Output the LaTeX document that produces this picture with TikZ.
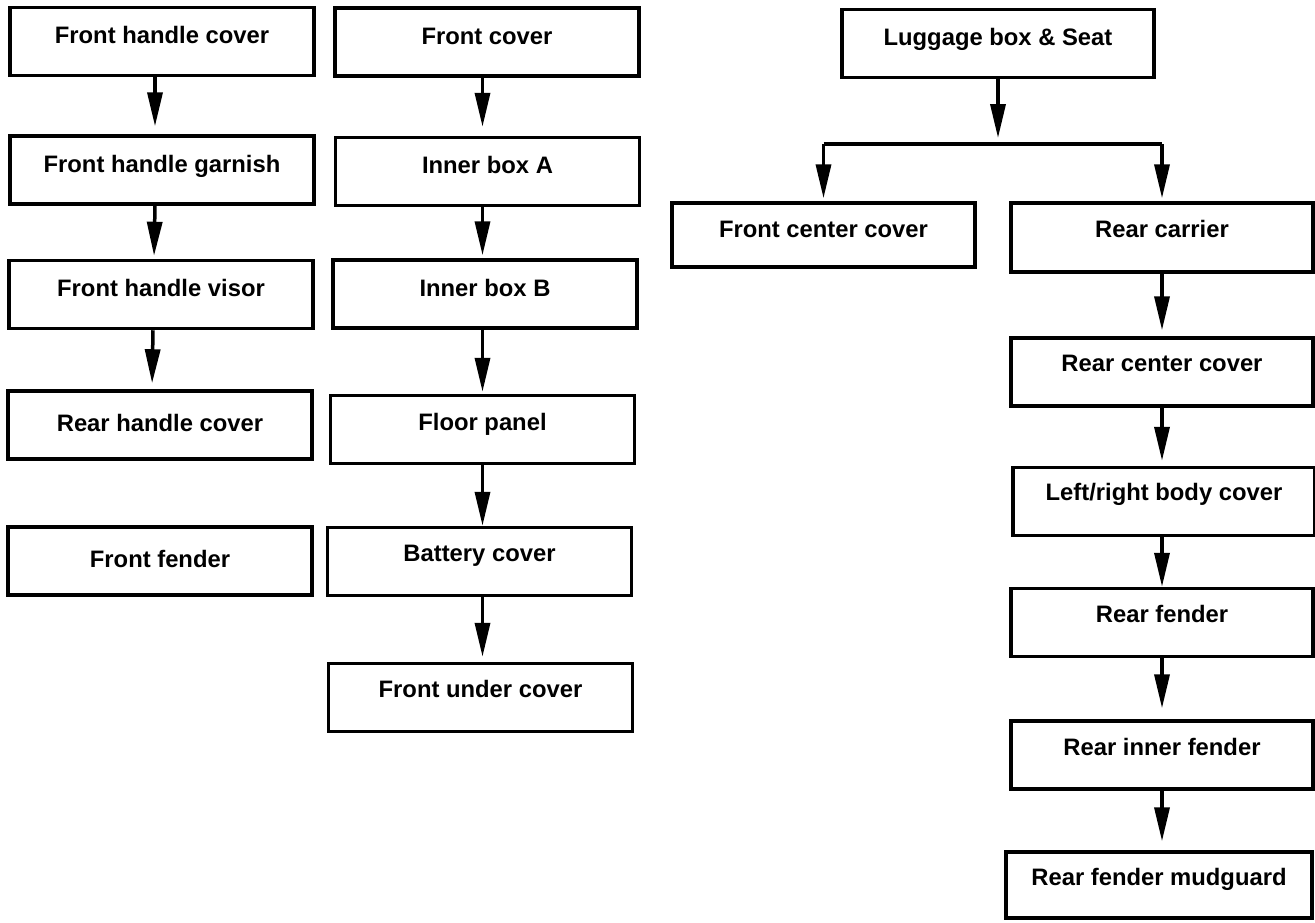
\documentclass[tikz,border=0pt]{standalone}
\usepackage{fontspec}
\setmainfont{Liberation Sans}
\usepackage{tikz}
\usetikzlibrary{arrows.meta}
\tikzset{part/.style={draw, line width=3.5pt, minimum width=304pt, minimum height=68pt, inner sep=0pt, text height=17pt, text depth=15pt, font=\bfseries\fontsize{23.8}{28}\selectfont}}
\tikzset{feed/.style={-{Triangle[length=34pt, width=15pt]}, line width=3.5pt}}
\newcommand{\nextpart}[3][0pt]{\draw[feed, shorten >=#1] (#2.south) -- (#3.north);}

\begin{document}
\begin{tikzpicture}[x=1pt, y=-1pt]
\useasboundingbox (0,0) rectangle (1315,922);
% handle side
\node[part, text depth=13pt] (fhc) at (162,41.5) {Front handle cover};
\node[part, text depth=13pt] (fhg) at (162,170) {Front handle garnish};
\node[part, text depth=13pt] (fhv) at (161,294.5) {Front handle visor};
\node[part, text depth=5pt] (rhc) at (160,425) {Rear handle cover};
\node[part, text depth=5pt] (ff) at (160,561) {Front fender};
\draw[feed, shorten >=8pt] ([xshift=-7pt]fhc.south) -- ([xshift=-7pt]fhg.north);
\draw[feed, shorten >=3pt] ([xshift=-7pt]fhg.south) -- ([xshift=-7pt]fhv.north);
\draw[feed, shorten >=6pt] ([xshift=-8pt]fhv.south) -- ([xshift=-8pt]rhc.north);
% front body
\node[part, text depth=13pt] (fc) at (487,42) {Front cover};
\node[part, text depth=13pt] (iba) at (487.5,171.5) {Inner box A};
\node[part, text depth=13pt] (ibb) at (485,294) {Inner box B};
\node[part] (fp) at (482.5,429.5) {Floor panel};
\node[part, text depth=17pt] (bc) at (479.5,561.5) {Battery cover};
\node[part, text depth=17pt] (fuc) at (480.5,697.5) {Front under cover};
\draw[feed, shorten >=9pt] (fc.south -| fp.south) -- (iba.north -| fp.south);
\draw[feed, shorten >=3pt] (iba.south -| fp.south) -- (ibb.north -| fp.south);
\draw[feed, shorten >=2pt] (ibb.south -| fp.south) -- (fp.north);
\draw[feed] (fp.south) -- (bc.north -| fp.south);
\draw[feed, shorten >=5pt] (bc.south -| fp.south) -- (fuc.north -| fp.south);
% rear body
\node[part, minimum width=312pt, text depth=13pt] (lbs) at (998,43.5) {Luggage box \& Seat};
\coordinate (split) at (998,144);
\node[part, minimum width=303pt, minimum height=64pt, text depth=13pt] (fcc) at (823.5,235) {Front center cover};
\node[part, minimum width=302pt, minimum height=69pt, text depth=17pt] (rc) at (1162,237.5) {Rear carrier};
\node[part, minimum width=302pt, text depth=19pt] (rcc) at (1162,372) {Rear center cover};
\node[part, minimum width=302pt, text depth=19pt] (lrbc) at (1164,501.5) {Left/right body cover};
\node[part, minimum width=302pt, text depth=17pt] (rf) at (1162,622.5) {Rear fender};
\node[part, minimum width=302pt, text depth=17pt] (rif) at (1162,755) {Rear inner fender};
\node[part, minimum width=306pt, minimum height=66pt, text depth=17pt] (rfm) at (1159,885) {Rear fender mudguard};
\draw[feed, shorten >=6pt] (lbs.south) -- (split);
\draw[line width=4pt] (fcc.north |- split) -- (rc.north |- split);
\draw[feed, shorten >=3pt] (fcc.north |- split) -- (fcc.north);
\draw[feed, shorten >=3pt] (rc.north |- split) -- (rc.north);
\nextpart[6pt]{rc}{rcc}
\draw[feed, shorten >=5pt] (rcc.south) -- (lrbc.north -| rcc.south);
\draw[feed] (lrbc.south -| rcc.south) -- (rf.north);
\nextpart[11pt]{rf}{rif}
\draw[feed, shorten >=9pt] (rif.south) -- (rfm.north -| rif.south);
\end{tikzpicture}
\end{document}
